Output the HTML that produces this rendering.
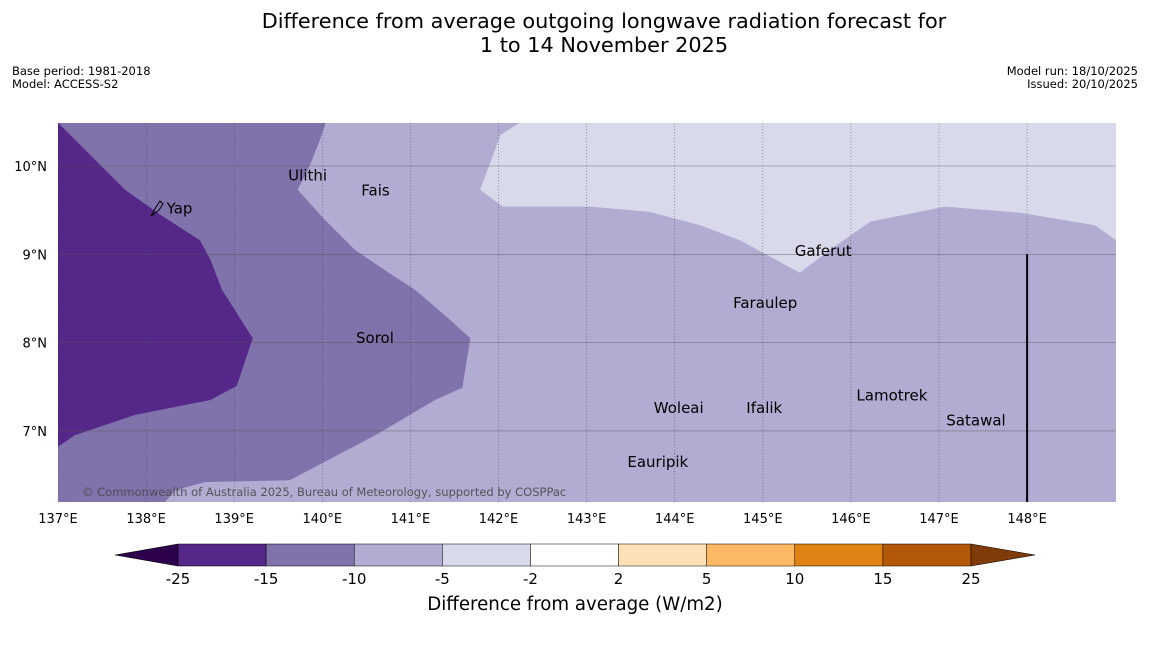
<!DOCTYPE html>
<html><head><meta charset="utf-8"><style>
body{margin:0;background:#fff;width:1150px;height:644px;overflow:hidden;font-family:"Liberation Sans","DejaVu Sans",sans-serif}
svg text{font-family:"DejaVu Sans","Liberation Sans",sans-serif}
</style></head><body>
<svg id="chart" width="1150" height="644" xmlns="http://www.w3.org/2000/svg">
<text x="604" y="28" font-size="20.8" text-anchor="middle">Difference from average outgoing longwave radiation forecast for</text>
<text x="604" y="52" font-size="20.8" text-anchor="middle">1 to 14 November 2025</text>
<text x="12" y="75" font-size="11.5">Base period: 1981-2018</text>
<text x="12" y="88" font-size="11.5">Model: ACCESS-S2</text>
<text x="1138" y="75" font-size="11.5" text-anchor="end">Model run: 18/10/2025</text>
<text x="1138" y="88" font-size="11.5" text-anchor="end">Issued: 20/10/2025</text>
<g id="map"></g>
<g id="cbar"></g>
<text x="575" y="610" font-size="18.2" text-anchor="middle">Difference from average (W/m2)</text>
</svg>
<script>
const NS='http://www.w3.org/2000/svg';
const lonTicks=[137,138,139,140,141,142,143,144,145,146,147,148];
const latTicks=[7,8,9,10];
const darkRegion=[[137,10.49],[137.08,10.41],[137.76,9.73],[138.16,9.45],[138.61,9.16],[138.73,8.94],[138.86,8.6],[139.21,8.05],[139.03,7.51],[138.73,7.35],[137.87,7.18],[137.19,6.95],[137,6.82]];
const midRegion=[[137,10.49],[140.04,10.49],[139.97,10.29],[139.86,10.01],[139.72,9.73],[140.03,9.39],[140.37,9.05],[140.71,8.82],[141.05,8.6],[141.39,8.31],[141.68,8.05],[141.59,7.49],[141.28,7.35],[140.6,6.95],[139.63,6.44],[138.67,6.42],[138.33,6.33],[138.21,6.19],[137,6.19]];
const lightRegion=[[142.24,10.49],[142.02,10.35],[141.96,10.18],[141.79,9.73],[142.05,9.54],[143.04,9.54],[143.72,9.48],[144.29,9.33],[144.74,9.16],[145.42,8.79],[145.76,9.05],[146.22,9.37],[147.07,9.54],[147.92,9.47],[148.77,9.33],[149.01,9.16],[149.01,10.49]];
const islandNames=['Ulithi','Fais','Yap','Gaferut','Faraulep','Sorol','Woleai','Ifalik','Lamotrek','Satawal','Eauripik'];
const islandLon=[139.59,140.42,138.21,145.34,144.64,140.36,143.74,144.79,146.04,147.06,143.44];
const islandLat=[9.89,9.72,9.52,9.04,8.45,8.05,7.26,7.26,7.40,7.12,6.65];
const cbLevels=['-25','-15','-10','-5','-2','2','5','10','15','25'];
const cbColors=['#542788','#8073ac','#b2abd2','#d8daeb','#ffffff','#fee0b6','#fdb863','#e08214','#b35806'];
const X0=58,X1=1116,Y0=123,Y1=502;
const x=lon=>58+(lon-137)*88.1;
const y=lat=>166+(10-lat)*88.3;
function mk(t,a,p){const e=document.createElementNS(NS,t);for(const k in a)e.setAttribute(k,a[k]);p.appendChild(e);return e;}
const map=document.getElementById('map');
const clip=mk('clipPath',{id:'mc'},map);mk('rect',{x:X0,y:Y0,width:X1-X0,height:Y1-Y0},clip);
const g=mk('g',{'clip-path':'url(#mc)'},map);
const bg=mk('rect',{x:X0,y:Y0,width:X1-X0,height:Y1-Y0,fill:'#b2abd2'},g);


const pts=a=>a.map(p=>x(p[0]).toFixed(1)+','+y(p[1]).toFixed(1)).join(' ');
let p=mk('polygon',{points:pts(lightRegion),fill:'#d8daeb'},g);


p=mk('polygon',{points:pts(midRegion),fill:'#8073ac'},g);


p=mk('polygon',{points:pts(darkRegion),fill:'#542788'},g);


lonTicks.forEach(l=>{
 const ln=mk('line',{x1:x(l),x2:x(l),y1:Y0,y2:Y1,stroke:'#333','stroke-width':0.6,'stroke-dasharray':'1,2','stroke-opacity':0.7},g);
 
 
 const t=mk('text',{x:x(l),y:523,'font-size':13,'text-anchor':'middle'},map);t.textContent=l+'°E';
 
 
});
latTicks.forEach(l=>{
 const ln=mk('line',{x1:X0,x2:X1,y1:y(l),y2:y(l),stroke:'#555','stroke-width':0.6,'stroke-opacity':0.7},g);
 
 
 const t=mk('text',{x:47,y:y(l)+5,'font-size':13,'text-anchor':'end'},map);t.textContent=l+'°N';
 
 
});
const bl=mk('line',{x1:x(148),x2:x(148),y1:y(9),y2:Y1,stroke:'#000','stroke-width':2},g);


const yap=mk('path',{d:'M151,216 L156,207 L160,201 L163,204 L159,210 L154,214 Z',fill:'none',stroke:'#000','stroke-width':1},map);


islandNames.forEach((n,i)=>{
 const t=mk('text',{x:x(islandLon[i])+2,y:y(islandLat[i])+5,'font-size':15},map);t.textContent=n;
 
 
});
const cr=mk('text',{x:82,y:496,'font-size':11.5,fill:'#444','fill-opacity':0.85},map);cr.textContent='© Commonwealth of Australia 2025, Bureau of Meteorology, supported by COSPPac';


const cb=document.getElementById('cbar');
const CX0=178,CX1=971,CY=544,CH=22,w=(CX1-CX0)/cbColors.length;
cbColors.forEach((c,i)=>{
 const r=mk('rect',{x:CX0+i*w,y:CY,width:w,height:CH,fill:c,stroke:'#000','stroke-width':0.5},cb);
 
 
});
let tr=mk('polygon',{points:`${CX0},${CY} 115,${CY+CH/2} ${CX0},${CY+CH}`,fill:'#2d004b',stroke:'#000','stroke-width':0.5},cb);


tr=mk('polygon',{points:`${CX1},${CY} 1035,${CY+CH/2} ${CX1},${CY+CH}`,fill:'#7f3b08',stroke:'#000','stroke-width':0.5},cb);


cbLevels.forEach((l,i)=>{
 const t=mk('text',{x:CX0+i*w,y:584,'font-size':15,'text-anchor':'middle'},cb);t.textContent=l;
 
 
});
</script>
</body></html>
